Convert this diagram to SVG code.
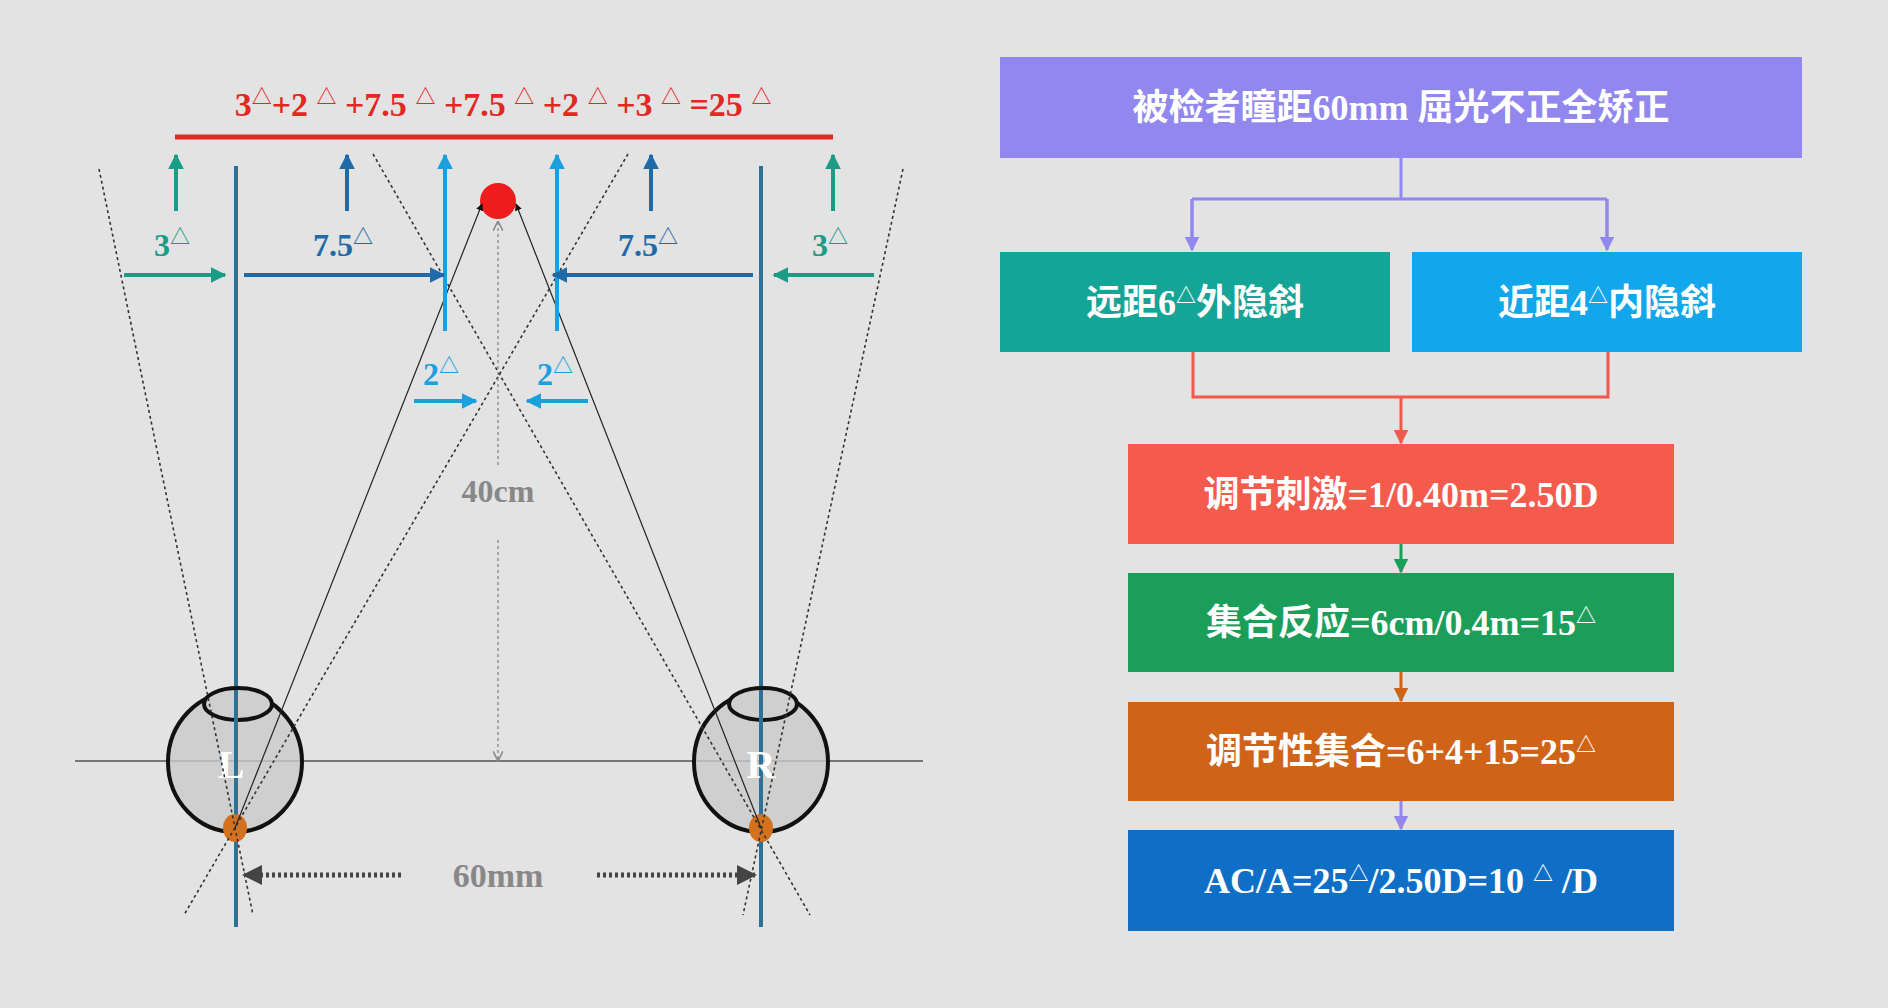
<svg xmlns="http://www.w3.org/2000/svg" width="1888" height="1008" viewBox="0 0 1888 1008">
<defs>
<style>
text{font-family:"Liberation Serif","Noto Sans CJK SC",serif;font-weight:bold;text-anchor:middle}
.bt{fill:#fff;font-size:36px}
.sup{font-size:20px}
.dot{stroke:#333;stroke-width:1.6;stroke-dasharray:3 3;fill:none}
</style>
<marker id="aT" viewBox="0 0 10 10" refX="9" refY="5" markerWidth="4" markerHeight="4" orient="auto"><path d="M0,0L10,5L0,10z" fill="#1a9c86"/></marker>
<marker id="aB" viewBox="0 0 10 10" refX="9" refY="5" markerWidth="4" markerHeight="4" orient="auto"><path d="M0,0L10,5L0,10z" fill="#1f6aa8"/></marker>
<marker id="aL" viewBox="0 0 10 10" refX="9" refY="5" markerWidth="4" markerHeight="4" orient="auto"><path d="M0,0L10,5L0,10z" fill="#1aa0dd"/></marker>
<marker id="aK" viewBox="0 0 10 10" refX="9" refY="5" markerWidth="6" markerHeight="6" orient="auto"><path d="M0,0L10,5L0,10z" fill="#111"/></marker>
<marker id="aG" viewBox="0 0 10 10" refX="9" refY="5" markerWidth="8" markerHeight="8" orient="auto"><path d="M0,0L10,5L0,10" fill="none" stroke="#888" stroke-width="1.5"/></marker>
<marker id="aD" viewBox="0 0 10 10" refX="9" refY="5" markerWidth="4" markerHeight="4" orient="auto"><path d="M0,0L10,5L0,10z" fill="#444"/></marker>
<marker id="aP" viewBox="0 0 10 10" refX="9" refY="5" markerWidth="5" markerHeight="5" orient="auto"><path d="M0,0L10,5L0,10z" fill="#9187ee"/></marker>
<marker id="aR" viewBox="0 0 10 10" refX="9" refY="5" markerWidth="5" markerHeight="5" orient="auto"><path d="M0,0L10,5L0,10z" fill="#ee5a4c"/></marker>
<marker id="aGr" viewBox="0 0 10 10" refX="9" refY="5" markerWidth="5" markerHeight="5" orient="auto"><path d="M0,0L10,5L0,10z" fill="#1b9e5a"/></marker>
<marker id="aO" viewBox="0 0 10 10" refX="9" refY="5" markerWidth="5" markerHeight="5" orient="auto"><path d="M0,0L10,5L0,10z" fill="#cf6418"/></marker>
</defs>
<rect width="1888" height="1008" fill="#e2e3e2"/>

<!-- left diagram -->
<g id="formula">
<text x="503" y="116" font-size="34" fill="#e2281f">3<tspan class="sup" dy="-12">△</tspan><tspan dy="12">+2 </tspan><tspan class="sup" dy="-12">△</tspan><tspan dy="12"> +7.5 </tspan><tspan class="sup" dy="-12">△</tspan><tspan dy="12"> +7.5 </tspan><tspan class="sup" dy="-12">△</tspan><tspan dy="12"> +2 </tspan><tspan class="sup" dy="-12">△</tspan><tspan dy="12"> +3 </tspan><tspan class="sup" dy="-12">△</tspan><tspan dy="12"> =25 </tspan><tspan class="sup" dy="-12">△</tspan></text>
<line x1="175" y1="137" x2="833" y2="137" stroke="#e2281f" stroke-width="5"/>
</g>

<g id="axes">
<line x1="75" y1="761" x2="923" y2="761" stroke="#777" stroke-width="2"/>
<line x1="236" y1="166" x2="236" y2="927" stroke="#2f7195" stroke-width="4"/>
<line x1="761" y1="166" x2="761" y2="927" stroke="#2f7195" stroke-width="4"/>
</g>

<g id="eyeL">
<ellipse cx="235" cy="762" rx="67" ry="70" fill="#c9c9c9" fill-opacity="0.8" stroke="#111" stroke-width="4"/>
<ellipse cx="238" cy="704" rx="34" ry="16" fill="#cfcfcf" stroke="#111" stroke-width="4"/>
<line x1="236" y1="690" x2="236" y2="840" stroke="#2f7195" stroke-width="4"/>
<text x="231" y="778" font-size="40" fill="#fff">L</text>
<ellipse cx="235" cy="828" rx="12" ry="14" fill="#d4711e"/>
</g>
<g id="eyeR">
<ellipse cx="761" cy="762" rx="67" ry="70" fill="#c9c9c9" fill-opacity="0.8" stroke="#111" stroke-width="4"/>
<ellipse cx="763" cy="704" rx="34" ry="16" fill="#cfcfcf" stroke="#111" stroke-width="4"/>
<line x1="761" y1="690" x2="761" y2="840" stroke="#2f7195" stroke-width="4"/>
<text x="761" y="778" font-size="40" fill="#fff">R</text>
<ellipse cx="761" cy="828" rx="12" ry="14" fill="#d4711e"/>
</g>

<g id="target"><circle cx="498" cy="201" r="18" fill="#ee1c1c"/></g>

<g id="connectors">
<!-- dotted visual lines -->
<line class="dot" x1="99" y1="169" x2="253" y2="915"/>
<line class="dot" x1="628" y1="154" x2="184" y2="915"/>
<line class="dot" x1="903" y1="169" x2="743" y2="915"/>
<line class="dot" x1="373" y1="154" x2="810" y2="915"/>
<!-- lines of sight -->
<line x1="235" y1="828" x2="482" y2="204" stroke="#222" stroke-width="1.2" marker-end="url(#aK)"/>
<line x1="761" y1="828" x2="516" y2="204" stroke="#222" stroke-width="1.2" marker-end="url(#aK)"/>
<!-- 40cm -->
<line x1="498" y1="465" x2="498" y2="222" stroke="#888" stroke-width="1.3" stroke-dasharray="3 3" marker-end="url(#aG)"/>
<line x1="498" y1="540" x2="498" y2="760" stroke="#888" stroke-width="1.3" stroke-dasharray="3 3" marker-end="url(#aG)"/>
<!-- 60mm -->
<line x1="401" y1="875" x2="244" y2="875" stroke="#444" stroke-width="5" stroke-dasharray="3 3" marker-end="url(#aD)"/>
<line x1="597" y1="875" x2="755" y2="875" stroke="#444" stroke-width="5" stroke-dasharray="3 3" marker-end="url(#aD)"/>
<!-- up arrows -->
<line x1="176" y1="211" x2="176" y2="155" stroke="#1a9c86" stroke-width="4" marker-end="url(#aT)"/>
<line x1="347" y1="211" x2="347" y2="155" stroke="#1f6aa8" stroke-width="4" marker-end="url(#aB)"/>
<line x1="445" y1="331" x2="445" y2="155" stroke="#1aa0dd" stroke-width="4" marker-end="url(#aL)"/>
<line x1="557" y1="331" x2="557" y2="155" stroke="#1aa0dd" stroke-width="4" marker-end="url(#aL)"/>
<line x1="651" y1="211" x2="651" y2="155" stroke="#1f6aa8" stroke-width="4" marker-end="url(#aB)"/>
<line x1="833" y1="211" x2="833" y2="155" stroke="#1a9c86" stroke-width="4" marker-end="url(#aT)"/>
<!-- horizontal arrows -->
<line x1="124" y1="275" x2="225" y2="275" stroke="#1a9c86" stroke-width="4" marker-end="url(#aT)"/>
<line x1="244" y1="275" x2="444" y2="275" stroke="#1f6aa8" stroke-width="4" marker-end="url(#aB)"/>
<line x1="753" y1="275" x2="553" y2="275" stroke="#1f6aa8" stroke-width="4" marker-end="url(#aB)"/>
<line x1="874" y1="275" x2="774" y2="275" stroke="#1a9c86" stroke-width="4" marker-end="url(#aT)"/>
<line x1="414" y1="401" x2="476" y2="401" stroke="#1aa0dd" stroke-width="4" marker-end="url(#aL)"/>
<line x1="588" y1="401" x2="527" y2="401" stroke="#1aa0dd" stroke-width="4" marker-end="url(#aL)"/>
<!-- flowchart connectors -->
<path d="M1401,158V199M1192,199H1607M1192,199V247M1607,199V247" fill="none" stroke="#9187ee" stroke-width="3"/>
<line x1="1192" y1="199" x2="1192" y2="250" stroke="#9187ee" stroke-width="3" marker-end="url(#aP)"/>
<line x1="1607" y1="199" x2="1607" y2="250" stroke="#9187ee" stroke-width="3" marker-end="url(#aP)"/>
<path d="M1193,352V397H1608V352" fill="none" stroke="#ee5a4c" stroke-width="3"/>
<line x1="1401" y1="397" x2="1401" y2="443" stroke="#ee5a4c" stroke-width="3" marker-end="url(#aR)"/>
<line x1="1401" y1="544" x2="1401" y2="572" stroke="#1b9e5a" stroke-width="3" marker-end="url(#aGr)"/>
<line x1="1401" y1="672" x2="1401" y2="701" stroke="#cf6418" stroke-width="3" marker-end="url(#aO)"/>
<line x1="1401" y1="801" x2="1401" y2="829" stroke="#9187ee" stroke-width="3" marker-end="url(#aP)"/>
</g>

<g id="labels">
<text x="172" y="256" font-size="32" fill="#1a9c86">3<tspan class="sup" dy="-12">△</tspan></text>
<text x="343" y="256" font-size="32" fill="#1f6aa8">7.5<tspan class="sup" dy="-12">△</tspan></text>
<text x="648" y="256" font-size="32" fill="#1f6aa8">7.5<tspan class="sup" dy="-12">△</tspan></text>
<text x="830" y="256" font-size="32" fill="#1a9c86">3<tspan class="sup" dy="-12">△</tspan></text>
<text x="441" y="385" font-size="32" fill="#1aa0dd">2<tspan class="sup" dy="-12">△</tspan></text>
<text x="555" y="385" font-size="32" fill="#1aa0dd">2<tspan class="sup" dy="-12">△</tspan></text>
<text x="498" y="502" font-size="32" fill="#888">40cm</text>
<text x="498" y="887" font-size="34" fill="#888">60mm</text>
</g>

<!-- flowchart -->
<g id="n1"><rect x="1000" y="57" width="802" height="101" fill="#9187ee"/><text class="bt" x="1401" y="120">被检者瞳距60mm 屈光不正全矫正</text></g>
<g id="n2"><rect x="1000" y="252" width="390" height="100" fill="#14a597"/><text class="bt" x="1195" y="315">远距6<tspan class="sup" dy="-12">△</tspan><tspan dy="12">外隐斜</tspan></text></g>
<g id="n3"><rect x="1412" y="252" width="390" height="100" fill="#12a6ea"/><text class="bt" x="1607" y="315">近距4<tspan class="sup" dy="-12">△</tspan><tspan dy="12">内隐斜</tspan></text></g>
<g id="n4"><rect x="1128" y="444" width="546" height="100" fill="#f45b4d"/><text class="bt" x="1401" y="507">调节刺激=1/0.40m=2.50D</text></g>
<g id="n5"><rect x="1128" y="573" width="546" height="99" fill="#1b9e5a"/><text class="bt" x="1401" y="635">集合反应=6cm/0.4m=15<tspan class="sup" dy="-12">△</tspan></text></g>
<g id="n6"><rect x="1128" y="702" width="546" height="99" fill="#cf6418"/><text class="bt" x="1401" y="764">调节性集合=6+4+15=25<tspan class="sup" dy="-12">△</tspan></text></g>
<g id="n7"><rect x="1128" y="830" width="546" height="101" fill="#0f6fc6"/><text class="bt" x="1401" y="893">AC/A=25<tspan class="sup" dy="-12">△</tspan><tspan dy="12">/2.50D=10 </tspan><tspan class="sup" dy="-12">△</tspan><tspan dy="12"> /D</tspan></text></g>
</svg>
